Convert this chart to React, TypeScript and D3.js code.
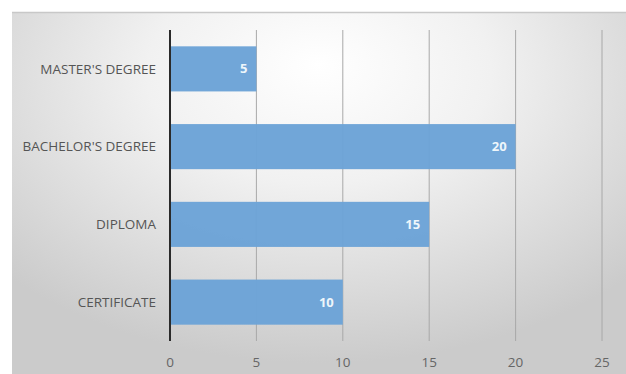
import React from "react";
import * as d3 from "d3";

const categories = ["MASTER'S DEGREE", "BACHELOR'S DEGREE", "DIPLOMA", "CERTIFICATE"];
const values = [5, 20, 15, 10];
const ticks = [0, 5, 10, 15, 20, 25];

export default function App() {
  const W = 626, H = 374;
  const x = d3.scaleLinear().domain([0, 25]).range([170, 602]);
  const y = d3.scaleBand<string>().domain(categories).range([30, 341]).paddingInner(0.42).paddingOuter(0.21);
  const font = "'Open Sans', sans-serif";
  return (
    <svg width={W} height={H} style={{ position: "absolute", left: 0, top: 0 }}>
      <defs>
        <radialGradient id="bg" cx="50%" cy="20%" r="70%" fx="50%" fy="15%" gradientTransform="translate(0.5,0.2) scale(1,1.1) translate(-0.5,-0.2)">
          <stop offset="0%" stopColor="#ffffff" />
          <stop offset="40%" stopColor="#f1f1f1" />
          <stop offset="100%" stopColor="#cbcbcb" />
        </radialGradient>
      </defs>
      <rect x={0} y={0} width={W} height={H} fill="#ffffff" />
      <rect x={12} y={12} width={W - 12} height={H - 12} fill="url(#bg)" />
      <line x1={12} x2={W} y1={12.5} y2={12.5} stroke="#c8c8c8" strokeWidth={1.5} />
      {ticks.slice(1).map((t) => (
        <line key={t} x1={x(t)} x2={x(t)} y1={30} y2={341} stroke="#a8a8a8" strokeWidth={1} />
      ))}
      {categories.map((c, i) => (
        <g key={c}>
          <rect x={x(0)} y={y(c)} width={x(values[i]) - x(0)} height={y.bandwidth()} fill="#6ca3d7" fillOpacity={0.97} />
          <text x={x(values[i]) - 9} y={y(c)! + y.bandwidth() / 2} dy="0.35em" textAnchor="end" fill="#eef6fb" fontFamily={font} fontWeight={700} fontSize={13}>
            {values[i]}
          </text>
          <text x={156} y={y(c)! + y.bandwidth() / 2} dy="0.35em" textAnchor="end" fill="#555555" fontFamily={font} fontSize={13.5}>
            {c}
          </text>
        </g>
      ))}
      <line x1={x(0)} x2={x(0)} y1={30} y2={341} stroke="#2a2a2a" strokeWidth={2} />
      {ticks.map((t) => (
        <text key={t} x={x(t)} y={362} dy="0.35em" textAnchor="middle" fill="#666666" fontFamily={font} fontSize={13.5}>
          {t}
        </text>
      ))}
    </svg>
  );
}
